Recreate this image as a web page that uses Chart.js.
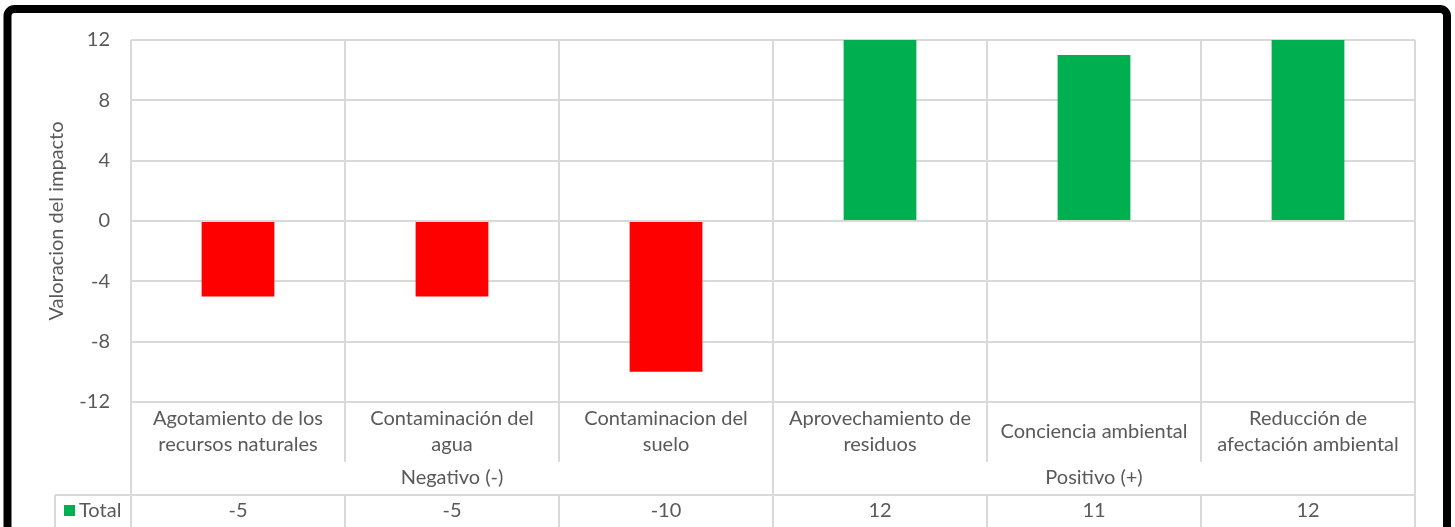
<!DOCTYPE html>
<html>
<head>
<meta charset="utf-8">
<script src="https://cdn.jsdelivr.net/npm/chart.js@4.4.0/dist/chart.umd.min.js"></script>
<style>
  html, body { margin: 0; padding: 0; background: #ffffff; }
  #wrap { width: 1455px; height: 527px; position: relative; }
</style>
</head>
<body>
<div id="wrap"><canvas id="c" width="1455" height="527"></canvas></div>
<script>
// ---- data ----
const categories = [
  ["Agotamiento de los", "recursos naturales"],
  ["Contaminación del", "agua"],
  ["Contaminacion del", "suelo"],
  ["Aprovechamiento de", "residuos"],
  ["Conciencia ambiental"],
  ["Reducción de", "afectación ambiental"]
];
const groupLabels = ["Negativo (-)", "Positivo (+)"];
const groupSizes = [3, 3];
const seriesName = "Total";
const totals = [-5, -5, -10, 12, 11, 12];
const yMin = -12, yMax = 12, yStep = 4;
const yTitle = "Valoracion del impacto";

// ---- styles ----
const FONT = "Lato";
const FS = 20;
const TEXT = "#595959";
const GRID = "#d9d9d9";
const RED = "#FF0000";
const GREEN = "#00B050";

const bottomPlugin = {
  id: "bottomTable",
  afterDraw(chart) {
    const ctx = chart.ctx;
    const xs = chart.scales.x;
    const area = chart.chartArea;
    const H = chart.height;
    const n = categories.length;
    const step = (xs.getPixelForValue(1) - xs.getPixelForValue(0));
    const bounds = [];
    for (let i = 0; i <= n; i++) bounds.push(xs.getPixelForValue(i) - step / 2);
    const catRowEnd = area.bottom + 60;
    const tableTop = area.bottom + 93;
    const tableMid = area.bottom + 109;
    const groupMid = area.bottom + 76;

    const groupBounds = [0];
    groupSizes.reduce((acc, s) => { groupBounds.push(acc + s); return acc + s; }, 0);

    ctx.save();
    ctx.strokeStyle = GRID;
    ctx.lineWidth = 2;
    ctx.beginPath();
    bounds.forEach((bx, i) => {
      if (groupBounds.includes(i)) {
        ctx.moveTo(bx, area.bottom); ctx.lineTo(bx, H);
      } else {
        ctx.moveTo(bx, area.bottom); ctx.lineTo(bx, catRowEnd);
        ctx.moveTo(bx, tableTop); ctx.lineTo(bx, H);
      }
    });
    const tableLeft = 55;
    ctx.moveTo(tableLeft, tableTop); ctx.lineTo(bounds[n], tableTop);
    ctx.moveTo(tableLeft, tableTop); ctx.lineTo(tableLeft, H);
    ctx.stroke();

    ctx.fillStyle = TEXT;
    ctx.font = FS + "px " + FONT;
    ctx.textAlign = "center";
    ctx.textBaseline = "middle";
    categories.forEach((lines, i) => {
      const cx = xs.getPixelForValue(i);
      const lh = 26;
      const mid = area.bottom + 30;
      const start = mid - (lines.length - 1) * lh / 2;
      lines.forEach((t, j) => ctx.fillText(t, cx, start + j * lh));
    });
    groupLabels.forEach((g, k) => {
      const x0 = bounds[groupBounds[k]], x1 = bounds[groupBounds[k + 1]];
      ctx.fillText(g, (x0 + x1) / 2, groupMid);
    });
    totals.forEach((v, i) => {
      ctx.fillText(String(v), xs.getPixelForValue(i), tableMid);
    });
    ctx.fillStyle = GREEN;
    ctx.fillRect(64, tableMid - 6, 11, 11);
    ctx.fillStyle = TEXT;
    ctx.textAlign = "left";
    ctx.fillText(seriesName, 79, tableMid);

    ctx.strokeStyle = "#000000";
    ctx.lineWidth = 8;
    ctx.beginPath();
    if (ctx.roundRect) ctx.roundRect(7.5, 9, 1439.5, 600, 7);
    else ctx.rect(7.5, 9, 1439.5, 600);
    ctx.stroke();
    ctx.restore();
  }
};

new Chart(document.getElementById("c"), {
  type: "bar",
  data: {
    labels: categories.map(c => c.join(" ")),
    datasets: [{
      label: seriesName,
      data: totals,
      backgroundColor: totals.map(v => v < 0 ? RED : GREEN),
      borderWidth: 0,
      categoryPercentage: 1.0,
      barPercentage: 0.34
    }]
  },
  options: {
    responsive: false,
    animation: false,
    devicePixelRatio: 1,
    layout: { padding: { left: 0, right: 40, top: 40, bottom: 0 } },
    plugins: { legend: { display: false }, tooltip: { enabled: false } },
    scales: {
      x: {
        type: "category",
        offset: true,
        grid: { offset: true, color: GRID, lineWidth: 2, drawTicks: false },
        border: { display: false },
        ticks: { display: false },
        afterFit(scale) { scale.height = 125; }
      },
      y: {
        min: yMin, max: yMax,
        grid: { color: GRID, lineWidth: 2, drawTicks: false },
        border: { display: false },
        ticks: {
          stepSize: yStep, color: TEXT, padding: 21,
          font: { family: FONT, size: FS }
        },
        title: {
          display: true, text: yTitle, color: TEXT,
          font: { family: FONT, size: FS },
          padding: { top: 45, bottom: 0 }
        },
        afterFit(scale) { scale.width = 131; }
      }
    }
  },
  plugins: [bottomPlugin]
});
</script>
</body>
</html>
